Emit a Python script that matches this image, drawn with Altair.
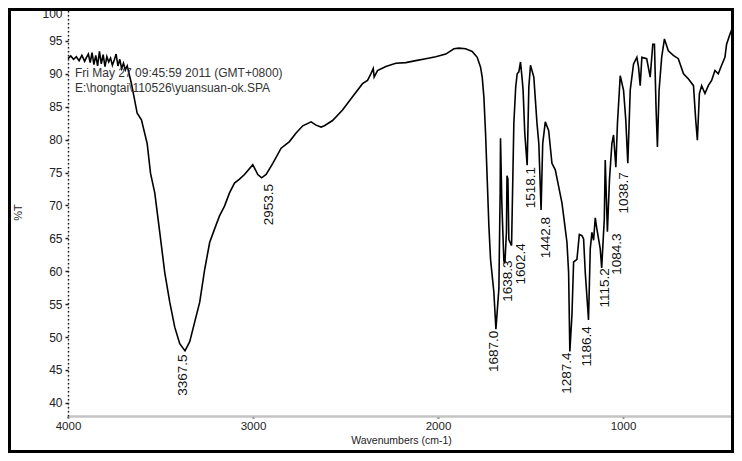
import altair as alt
import pandas as pd

# ---- spectrum (wavenumber cm-1, %T) ----
wavenumber = [
    4000, 3985, 3970, 3955, 3940, 3925, 3910, 3900, 3890, 3880, 3870, 3860, 3850, 3840, 3830,
    3820, 3810, 3800, 3790, 3780, 3770, 3760, 3750, 3740, 3730, 3720, 3710, 3700, 3690, 3680, 3670,
    3657, 3626, 3603, 3572, 3554, 3531, 3504, 3477, 3450, 3423, 3396, 3367.5, 3342, 3315, 3288,
    3261, 3234, 3208, 3181, 3154, 3127, 3100, 3073, 3046, 3001, 2974, 2953.5, 2929, 2893, 2848,
    2803, 2767, 2731, 2686, 2659, 2632, 2614, 2570, 2516, 2462, 2408, 2381, 2363, 2350, 2345,
    2327, 2282, 2228, 2174, 2120, 2066, 2012, 1958, 1914, 1887, 1851, 1815, 1788, 1770, 1761,
    1752, 1743, 1734, 1725, 1716, 1698, 1687, 1671, 1664, 1662, 1659, 1655, 1644, 1638.3, 1630,
    1627, 1622, 1617, 1602.4, 1590, 1580, 1572, 1563, 1554, 1546, 1540, 1531, 1518.1, 1509,
    1500, 1482, 1465, 1455, 1442.8, 1434, 1420, 1402, 1384, 1366, 1348, 1330, 1321, 1303, 1294,
    1287.4, 1276, 1267, 1249, 1236, 1222, 1213, 1204, 1186.4, 1177, 1168, 1159, 1150, 1141,
    1123, 1115.2, 1101, 1096, 1084.3, 1073, 1060, 1051, 1038.7, 1030, 1015, 997, 985, 974, 961,
    943, 925, 916, 907, 898, 872, 853, 839, 830, 821, 814, 805, 791, 776, 755, 728, 701, 673,
    646, 619, 607, 598, 587, 575, 557, 539, 521, 503, 485, 467, 449, 440, 422, 404, 400,
]
transmittance = [
    92.3, 92.7, 92.2, 92.6, 92.0, 92.8, 91.9, 92.5, 93.0, 91.7, 93.2, 91.4, 92.8, 91.2, 93.4,
    91.5, 92.9, 91.1, 92.6, 91.8, 92.4, 91.3, 92.1, 93.0, 91.2, 92.2, 90.8, 91.6, 90.6, 91.2, 90.0,
    88.5, 84.0, 83.0, 79.4, 74.9, 71.9, 65.9, 59.8, 55.3, 51.5, 49.0, 47.9, 49.3, 52.3, 55.3,
    60.3, 64.4, 66.4, 68.4, 69.9, 71.9, 73.4, 74.0, 74.7, 76.2, 74.7, 74.2, 74.7, 76.4, 78.7,
    79.7, 81.0, 82.1, 82.7, 82.2, 81.9, 82.1, 82.9, 84.5, 86.5, 88.5, 89.0, 90.0, 90.8, 89.5,
    90.5, 91.1, 91.6, 91.7, 92.0, 92.3, 92.6, 93.0, 93.8, 93.9, 93.8, 93.4, 92.5, 91.0, 89.5,
    86.5, 81.0, 74.0, 66.9, 61.8, 56.8, 51.2, 57.3, 72.0, 80.2, 76.0, 70.4, 61.6, 61.2, 66.0,
    74.5, 74.0, 64.8, 63.9, 82.5, 88.0, 90.0, 90.3, 91.8, 89.5, 87.5, 81.0, 76.1, 88.0,
    91.3, 89.5, 82.5, 79.4, 69.3, 79.4, 82.7, 81.4, 76.4, 75.4, 72.9, 70.4, 68.4, 64.4, 59.8,
    47.8, 53.3, 61.4, 61.8, 65.6, 65.4, 64.9, 59.8, 52.6, 63.4, 65.9, 64.7, 68.1, 66.4,
    63.4, 60.5, 68.0, 76.9, 66.0, 74.0, 79.4, 80.7, 75.8, 82.5, 89.7, 87.5, 83.0, 76.4, 87.5,
    91.5, 92.5, 91.0, 88.2, 92.5, 92.3, 89.5, 94.5, 94.5, 84.5, 78.9, 87.5, 92.5, 95.3, 93.5,
    92.8, 92.3, 90.0, 89.2, 88.2, 83.0, 79.9, 87.0, 88.2, 87.0, 88.2, 89.0, 90.5, 90.0, 91.3,
    92.5, 94.5, 96.0, 97.3, 98.5,
]

# ---- peak labels ----
peak_text = ["3367.5", "2953.5", "1687.0", "1638.3", "1602.4", "1518.1",
             "1442.8", "1287.4", "1186.4", "1115.2", "1084.3", "1038.7"]
peak_label_wn = [3380, 2911, 1698, 1623, 1553, 1499, 1418, 1305, 1197, 1100, 1030, 992]
peak_label_T = [47.5, 73.4, 51.1, 61.8, 64.4, 76.0, 68.4, 47.8, 51.8, 60.6, 65.9, 75.2]

# ---- header annotation ----
header_lines = ["Fri May 27 09:45:59 2011 (GMT+0800)",
                "E:\\hongtai\\110526\\yuansuan-ok.SPA"]
header_wn = [3962, 3962]
header_T = [90.1, 87.8]

x_ticks = [4000, 3000, 2000, 1000]
y_ticks = [40, 45, 50, 55, 60, 65, 70, 75, 80, 85, 90, 95, 100]

FONT = "Liberation Sans"
W, H = 666, 408

spec = pd.DataFrame({"wn": wavenumber, "T": transmittance})
peaks = pd.DataFrame({"label": peak_text, "wn": peak_label_wn, "T": peak_label_T})
header = pd.DataFrame({"label": header_lines, "wn": header_wn, "T": header_T})

x_scale = alt.Scale(domain=[400, 4000], reverse=True, nice=False, zero=False)
y_scale = alt.Scale(domain=[38, 100], nice=False, zero=False)

x_axis = alt.Axis(
    values=x_ticks, format="d", grid=False, title="Wavenumbers (cm-1)",
    domainColor="#c4c4c4", domainWidth=2.5, tickColor="#222", tickSize=2, tickWidth=2,
    labelFont=FONT, labelFontSize=11.5, labelColor="#222", labelPadding=2,
    labelFlush=False, labelOverlap=False,
    titleFont=FONT, titleFontSize=10.5, titleFontWeight="normal", titleColor="#222",
    titlePadding=4,
)
y_axis = alt.Axis(
    values=y_ticks, format="d", grid=False, title="%T",
    domainColor="#222", domainWidth=1.5, domainDash=[1.5, 2.5],
    tickColor="#222", tickSize=3, tickWidth=1.5,
    labelFont=FONT, labelFontSize=12, labelColor="#222", labelPadding=3,
    labelFlush=True, labelOverlap=False,
    titleFont=FONT, titleFontSize=11, titleFontWeight="normal", titleColor="#222",
    titleX=-50, titleY=204, titleAlign="center", titleBaseline="middle",
)

X = alt.X("wn:Q", scale=x_scale, axis=x_axis)
Y = alt.Y("T:Q", scale=y_scale, axis=y_axis)

line = alt.Chart(spec).mark_line(color="black", strokeWidth=1.6).encode(x=X, y=Y)

labels = alt.Chart(peaks).mark_text(
    angle=270, align="right", baseline="middle", dx=-1,
    font=FONT, fontSize=13.5, color="#111",
).encode(x=X, y=Y, text="label:N")

head = alt.Chart(header).mark_text(
    align="left", baseline="middle", font=FONT, fontSize=12, color="#333",
).encode(x=X, y=Y, text="label:N")

frame = alt.Chart(pd.DataFrame({"k": [0]})).mark_rect(
    filled=False, stroke="black", strokeWidth=3,
).encode(
    x=alt.value(-58.5), x2=alt.value(W - 1.5),
    y=alt.value(1.5), y2=alt.value(443.5),
)

chart = alt.layer(line, labels, head, frame).properties(
    width=W, height=H,
    autosize=alt.AutoSizeParams(type="none"),
    padding={"left": 60, "top": 0, "right": 0, "bottom": 37},
).configure_view(stroke=None).configure(background="white")

chart.save("out.html", embed_options={"renderer": "svg", "actions": False})
